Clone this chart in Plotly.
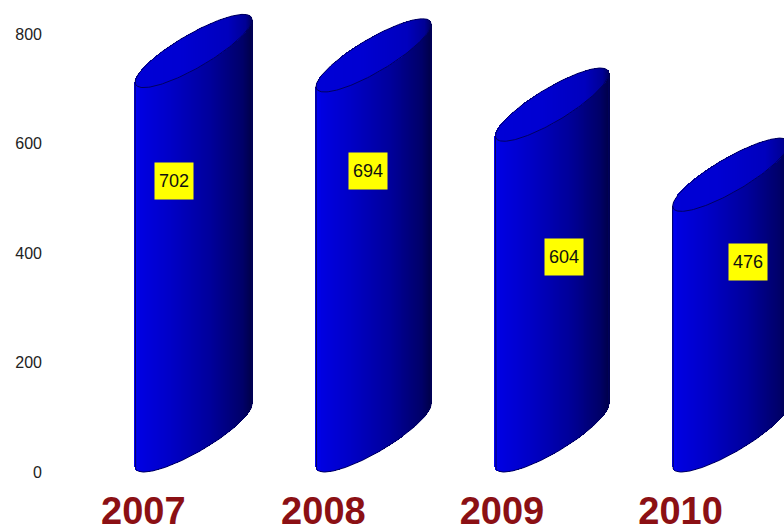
import numpy as np
import plotly.graph_objects as go

# Annual totals shown as slanted cylinders
years = ["2007", "2008", "2009", "2010"]
values = [702, 694, 604, 476]
y_ticks = [0, 200, 400, 600, 800]

# Cylinder centres and half widths on the x axis
centers = [0.0, 1.004, 2.0, 2.996]
half_widths = [0.326, 0.321, 0.316, 0.324]

# Where each value tag sits, on the same axes as the bars
tag_x = [-0.109, 0.975, 2.068, 3.094]
tag_y = [531, 549, 392, 384]

# Rim shape, in y-axis units
RIM_SLOPE = 57.0
RIM_BULGE = 35.0
DEPTH = float(np.hypot(RIM_SLOPE, RIM_BULGE))
STRIPS = 118


def ramp(u, stops):
    """Blue channel ramp across a cylinder, u running from -1 to 1."""
    blue = np.interp(u, [s[0] for s in stops], [s[1] for s in stops])
    return [f"rgb(0,0,{int(b)})" for b in blue]


BODY_STOPS = [(-1, 250), (-0.9, 225), (-0.4, 200), (0.3, 155), (0.85, 105), (1, 75)]
TOP_STOPS = [(-1, 215), (-0.2, 210), (0.6, 190), (0.9, 150), (1, 100)]

fig = go.Figure()

for center, half, value in zip(centers, half_widths, values):
    u = np.linspace(-1, 1, STRIPS)
    xs = center + u * half
    strip_w = 2 * half / (STRIPS - 1) * 1.25
    bulge = RIM_BULGE * np.sqrt(1 - u ** 2)
    lower = DEPTH + RIM_SLOPE * u - bulge

    # Body: vertical strips running from the bottom rim to the top rim
    fig.add_trace(go.Bar(
        x=xs, y=np.full(STRIPS, float(value)), base=lower, width=strip_w,
        marker=dict(color=ramp(u, BODY_STOPS), line=dict(width=0)),
        hoverinfo="skip", showlegend=False,
    ))
    # Top face of the cylinder
    fig.add_trace(go.Bar(
        x=xs, y=2 * bulge, base=lower + value, width=strip_w,
        marker=dict(color=ramp(u, TOP_STOPS), line=dict(width=0)),
        hoverinfo="skip", showlegend=False,
    ))

    # Rim of the top face
    t = np.linspace(0, 2 * np.pi, 181)
    fig.add_trace(go.Scatter(
        x=center + half * np.cos(t),
        y=DEPTH + value + RIM_SLOPE * np.cos(t) + RIM_BULGE * np.sin(t),
        mode="lines", line=dict(color="#000060", width=1),
        hoverinfo="skip", showlegend=False,
    ))
    # Outer edge: left side, bottom rim, right side
    front = np.linspace(np.pi, 2 * np.pi, 91)
    fig.add_trace(go.Scatter(
        x=np.concatenate(([center - half], center + half * np.cos(front), [center + half])),
        y=np.concatenate((
            [DEPTH + value - RIM_SLOPE],
            DEPTH + RIM_SLOPE * np.cos(front) + RIM_BULGE * np.sin(front),
            [DEPTH + value + RIM_SLOPE],
        )),
        mode="lines", line=dict(color="#000060", width=1),
        hoverinfo="skip", showlegend=False,
    ))

# Yellow value tags
annotations = [
    dict(
        x=x, y=y, xref="x", yref="y", text=str(v), showarrow=False,
        bgcolor="#ffff00", width=36, height=34, align="center", valign="middle",
        font=dict(family="Liberation Sans", size=18, color="#111111"),
    )
    for x, y, v in zip(tag_x, tag_y, values)
]

fig.update_layout(
    width=784, height=526,
    margin=dict(l=46, r=0, t=0, b=41, autoexpand=False),
    paper_bgcolor="white", plot_bgcolor="white",
    barmode="overlay", bargap=0,
    annotations=annotations,
    xaxis=dict(
        range=[-0.823, 3.293], showgrid=False, zeroline=False, showline=False,
        ticks="", tickmode="array",
        tickvals=[c - 0.28 for c in centers], ticktext=years,
        tickfont=dict(family="Liberation Sans", size=38, color="#8b1014", weight="bold"),
        tickangle=0, ticklabelstandoff=0,
    ),
    yaxis=dict(
        range=[-23.7, 862], showgrid=False, zeroline=False, showline=False,
        ticks="", tickmode="array", tickvals=y_ticks,
        ticktext=[str(v) for v in y_ticks],
        tickfont=dict(family="Liberation Sans", size=16, color="#222222"),
        ticklabelstandoff=3,
    ),
)

fig.write_html("out.html")
